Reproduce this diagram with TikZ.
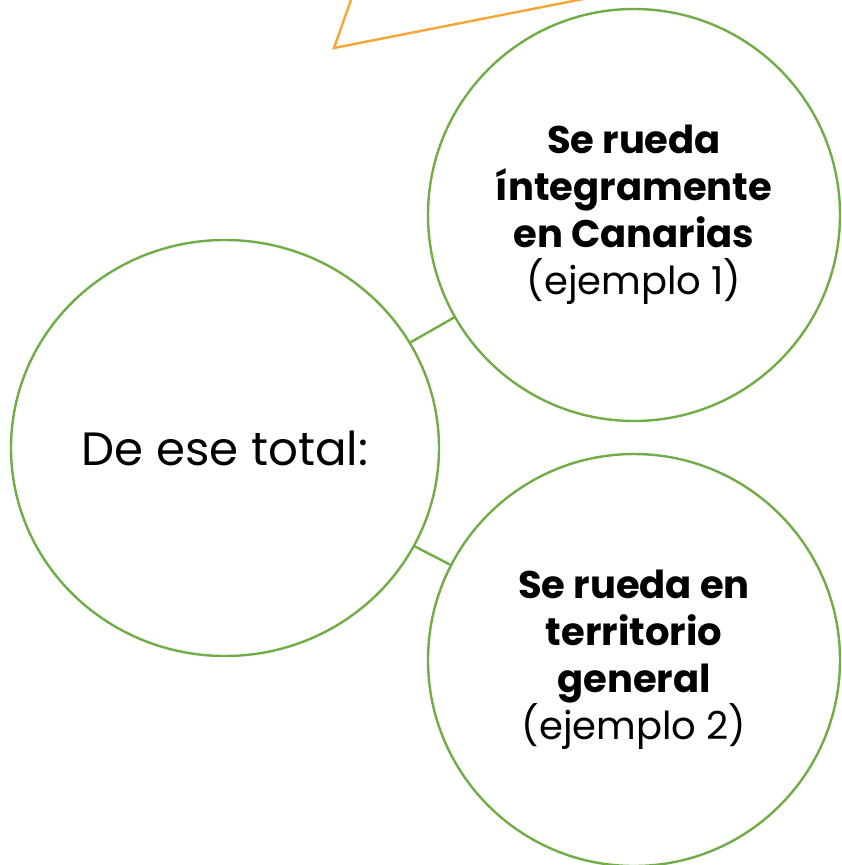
\documentclass[tikz,border=0pt]{standalone}
\usepackage{fontspec}
\setmainfont{Poppins}
\usetikzlibrary{shapes.geometric}
\definecolor{lgreen}{HTML}{70AD47}
\definecolor{lorange}{HTML}{F7A537}
\tikzset{
  bubble/.style={draw=lgreen, line width=2.4pt, fill=white, inner sep=0pt, align=center},
  link/.style={draw=lgreen, line width=2.4pt},
  bigtxt/.style={font=\fontsize{46.7}{56}\selectfont},
  smtxt/.style={font=\fontsize{38.5}{47}\selectfont},
}
\begin{document}
\begin{tikzpicture}[x=1pt,y=-1pt]
\clip (0,0) rectangle (841,865);
\fill[white] (0,0) rectangle (841,865);
\draw[lorange, line width=2.4pt, line join=miter] (358,-20) -- (334,48) -- (629,-10);
\node[bubble, ellipse, minimum width=428pt, minimum height=416pt, bigtxt] (total) at (225,448) {De ese total:};
\node[bubble, circle, minimum size=412pt, smtxt] (canarias) at (634,215)
  {\textbf{Se rueda}\\\textbf{íntegramente}\\\textbf{en Canarias}\\(ejemplo 1)};
\node[bubble, circle, minimum size=412pt, smtxt] (general) at (634,660)
  {\textbf{Se rueda en}\\\textbf{territorio}\\\textbf{general}\\(ejemplo 2)};
\draw[link] (total) -- (canarias);
\draw[link] (total) -- (general);
\end{tikzpicture}
\end{document}
